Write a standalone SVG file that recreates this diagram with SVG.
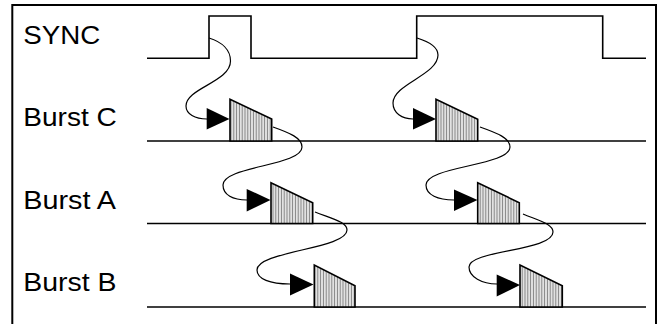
<svg xmlns="http://www.w3.org/2000/svg" width="660" height="324" viewBox="0 0 660 324">
<style>
.lbl{font-family:"Liberation Sans",Arial,sans-serif;font-size:25px;fill:#000}
.sig{fill:none;stroke:#000;stroke-width:1.6}
.cur{fill:none;stroke:#000;stroke-width:1.2}
.burst{fill:url(#hatch);stroke:#000;stroke-width:1.6;stroke-linejoin:miter}
.arr{fill:#000}
</style>
<defs>
<pattern id="hatch" patternUnits="userSpaceOnUse" width="2.8" height="10">
<rect width="2.8" height="10" fill="#e2e2e2"/>
<line x1="1.4" y1="0" x2="1.4" y2="10" stroke="#7a7a7a" stroke-width="0.9"/>
</pattern>
</defs>
<rect x="0" y="0" width="660" height="324" fill="#fff"/>
<rect id="frame" x="12.3" y="5" width="643.7" height="330" fill="none" stroke="#000" stroke-width="2"/>
<g id="labels">
<text class="lbl" x="23.3" y="44" textLength="77" lengthAdjust="spacingAndGlyphs">SYNC</text>
<text class="lbl" x="23.3" y="126" textLength="93.5" lengthAdjust="spacingAndGlyphs">Burst C</text>
<text class="lbl" x="23.3" y="209" textLength="92.7" lengthAdjust="spacingAndGlyphs">Burst A</text>
<text class="lbl" x="23.3" y="291" textLength="93.3" lengthAdjust="spacingAndGlyphs">Burst B</text>
</g>
<g id="signals">
<path id="sync" class="sig" d="M147,58.3 H209 V16 H251 V58.3 H416.7 V16 H602.7 V58.3 H646"/>
<line id="lineC" class="sig" x1="147" y1="141" x2="646" y2="141"/>
<line id="lineA" class="sig" x1="147" y1="223.5" x2="646" y2="223.5"/>
<line id="lineB" class="sig" x1="147" y1="307" x2="646" y2="307"/>
</g>
<g id="bursts">
<path id="burstC1" class="burst" d="M230,141 V99.3 L271.7,119 V141 Z"/>
<path id="burstA1" class="burst" d="M271,223.5 V182.7 L312.7,202.7 V223.5 Z"/>
<path id="burstB1" class="burst" d="M314.3,307 V265 L355,285.7 V307 Z"/>
<path id="burstC2" class="burst" d="M436,141 V99.3 L477.7,119.3 V141 Z"/>
<path id="burstA2" class="burst" d="M477.7,223.5 V182.7 L519.3,202.7 V223.5 Z"/>
<path id="burstB2" class="burst" d="M520,307 V265 L562.3,285.7 V307 Z"/>
</g>
<g id="connectors">
<path class="cur" d="M209,38 C222,42 230.5,50 230.5,61 C230.5,82 186,88 186,106 C186,114 195,119 207,119"/>
<path class="cur" d="M273,127 C290,133 302,138 302,147 C302,166 223,166 223,185 C223,195 233,200 247,200"/>
<path class="cur" d="M315,212 C333,219 347,222 347,230 C347,249 257,251 257,270 C257,279 270,284 290,284"/>
<path class="cur" d="M417,38 C430,42 438,47 438,55 C438,75 393,84 393,103 C393,113 402,119 413,119"/>
<path class="cur" d="M480,127 C497,133 510,138 510,147 C510,166 426,166 426,185 C426,195 438,200 454,200"/>
<path class="cur" d="M523,214 C540,221 553,224 553,232 C553,251 469,250 469,267 C469,277 482,284 497,284"/>
<polygon class="arr" points="206.7,108 206.7,129.5 229.5,119"/>
<polygon class="arr" points="246.7,189 246.7,211.5 270.5,200"/>
<polygon class="arr" points="290,273.5 290,295.5 313.5,284.5"/>
<polygon class="arr" points="413,108 413,129.5 436,119"/>
<polygon class="arr" points="454,189.5 454,211 477.5,200"/>
<polygon class="arr" points="496.7,274.5 496.7,296.5 520,285"/>
</g>
</svg>
